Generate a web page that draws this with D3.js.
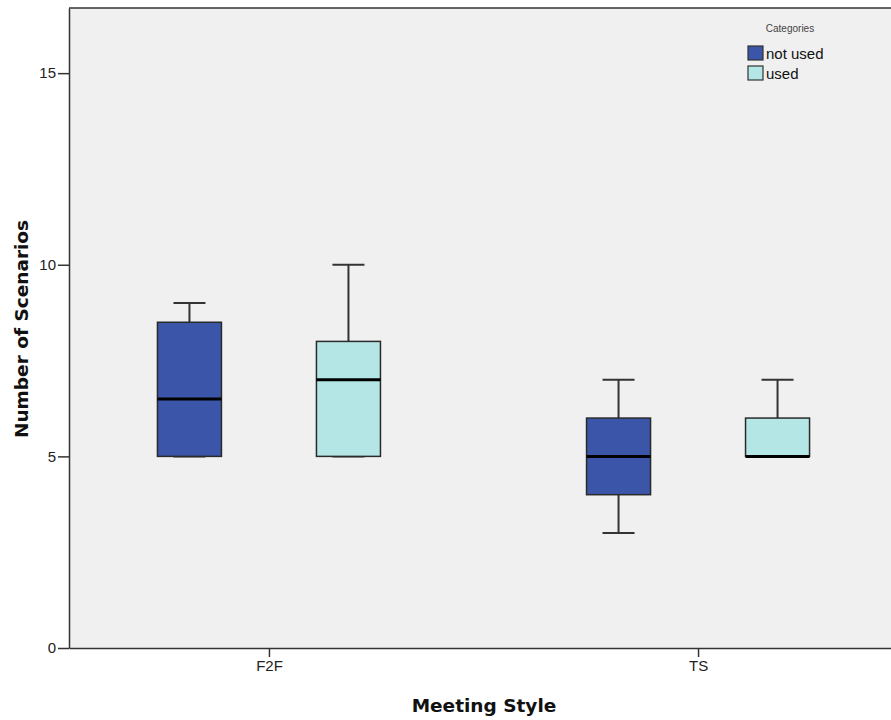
<!DOCTYPE html>
<html>
<head>
<meta charset="utf-8">
<script src="https://cdn.jsdelivr.net/npm/d3@7"></script>
<style>
	body { margin: 0; background: #fff; }
	svg { display: block; font-family: Arial, "Liberation Sans", sans-serif; }
</style>
</head>
<body>
<svg id="chart"></svg>
<script>
// data
const styles = ["F2F", "TS"]
const categories = ["not used", "used"]
const colors = ["#3b55a8", "#b5e6e6"]
// [min, q1, median, q3, max] per style, per category
const notUsedStats = [[5, 5, 6.5, 8.5, 9], [3, 4, 5, 6, 7]]
const usedStats = [[5, 5, 7, 8, 10], [5, 5, 5, 6, 7]]
const yTicks = [0, 5, 10, 15]

const width = 891
const height = 720
const margin = {top: 8, right: -7, bottom: 72, left: 69}
const plotWidth = width - margin.left - margin.right
const plotHeight = height - margin.top - margin.bottom

const svg = d3.select("#chart")
	.attr("width", width)
	.attr("height", height)

const plot = svg.append("g")
	.attr("transform", "translate(" + margin.left + "," + margin.top + ")")

const x = d3.scalePoint().domain(styles).range([0, plotWidth]).padding(0.466)
const y = d3.scaleLinear().domain([0, 16.7]).range([plotHeight, 0])
const sub = d3.scalePoint().domain(categories).range([-79.5, 79.5])
const boxWidth = 64

plot.append("rect")
	.attr("width", plotWidth)
	.attr("height", plotHeight)
	.attr("fill", "#f0f0f0")

// top border
plot.append("line")
	.attr("x1", 0).attr("x2", plotWidth)
	.attr("stroke", "#333").attr("stroke-width", 1.5)

const yAxis = plot.append("g")
	.call(d3.axisLeft(y).tickValues(yTicks).tickSize(11).tickSizeOuter(0).tickPadding(2))
const xAxis = plot.append("g")
	.attr("transform", "translate(0," + plotHeight + ")")
	.call(d3.axisBottom(x).tickSize(9).tickSizeOuter(0).tickPadding(3))
for (const a of [xAxis, yAxis]) {
	a.select(".domain").attr("stroke", "#333").attr("stroke-width", 1.5)
	a.selectAll(".tick line").attr("stroke", "#333").attr("stroke-width", 1.5)
	a.selectAll(".tick text").attr("fill", "#222").style("font-size", "15px").style("font-family", "Arial, 'Liberation Sans', sans-serif")
}

const boxes = []
styles.forEach((s, i) => {
	boxes.push({style: s, cat: categories[0], color: colors[0], v: notUsedStats[i]})
	boxes.push({style: s, cat: categories[1], color: colors[1], v: usedStats[i]})
})

const g = plot.selectAll("g.box")
	.data(boxes)
	.enter().append("g")
	.attr("class", "box")
	.attr("transform", d => "translate(" + (x(d.style) + sub(d.cat)) + ",0)")

// whiskers
g.append("line")
	.attr("y1", d => y(d.v[0])).attr("y2", d => y(d.v[1]))
	.attr("stroke", "#333").attr("stroke-width", 2)
g.append("line")
	.attr("y1", d => y(d.v[3])).attr("y2", d => y(d.v[4]))
	.attr("stroke", "#333").attr("stroke-width", 2)
g.append("line")
	.attr("x1", -boxWidth / 4).attr("x2", boxWidth / 4)
	.attr("y1", d => y(d.v[0])).attr("y2", d => y(d.v[0]))
	.attr("stroke", "#333").attr("stroke-width", 2)
g.append("line")
	.attr("x1", -boxWidth / 4).attr("x2", boxWidth / 4)
	.attr("y1", d => y(d.v[4])).attr("y2", d => y(d.v[4]))
	.attr("stroke", "#333").attr("stroke-width", 2)

g.append("rect")
	.attr("x", -boxWidth / 2)
	.attr("width", boxWidth)
	.attr("y", d => y(d.v[3]))
	.attr("height", d => y(d.v[1]) - y(d.v[3]))
	.attr("fill", d => d.color)
	.attr("stroke", "#2a2a2a").attr("stroke-width", 1.5)

g.append("line")
	.attr("x1", -boxWidth / 2).attr("x2", boxWidth / 2)
	.attr("y1", d => y(d.v[2])).attr("y2", d => y(d.v[2]))
	.attr("stroke", "#000").attr("stroke-width", 3)

// axis titles
svg.append("text")
	.attr("transform", "translate(" + 28 + "," + 329 + ") rotate(-90)")
	.attr("text-anchor", "middle")
	.style("font-family", "'DejaVu Sans', sans-serif")
	.style("font-size", "18.5px").style("font-weight", "bold")
	.attr("fill", "#111")
	.text("Number of Scenarios")
svg.append("text")
	.attr("x", 484).attr("y", 712)
	.attr("text-anchor", "middle")
	.style("font-family", "'DejaVu Sans', sans-serif")
	.style("font-size", "18.5px").style("font-weight", "bold")
	.attr("fill", "#111")
	.text("Meeting Style")

// legend
const legend = svg.append("g").attr("transform", "translate(748,0)")
legend.append("text")
	.attr("x", 42).attr("y", 32)
	.attr("text-anchor", "middle")
	.style("font-size", "10px").attr("fill", "#444")
	.text("Categories")
const item = legend.selectAll("g.item")
	.data(categories)
	.enter().append("g")
	.attr("class", "item")
	.attr("transform", (d, i) => "translate(0," + (46 + i * 20) + ")")
item.append("rect")
	.attr("width", 15).attr("height", 14)
	.attr("fill", (d, i) => colors[i])
	.attr("stroke", "#333").attr("stroke-width", 1.2)
item.append("text")
	.attr("x", 18).attr("y", 13)
	.style("font-size", "15px").attr("fill", "#111")
	.text(d => d)
</script>
</body>
</html>
